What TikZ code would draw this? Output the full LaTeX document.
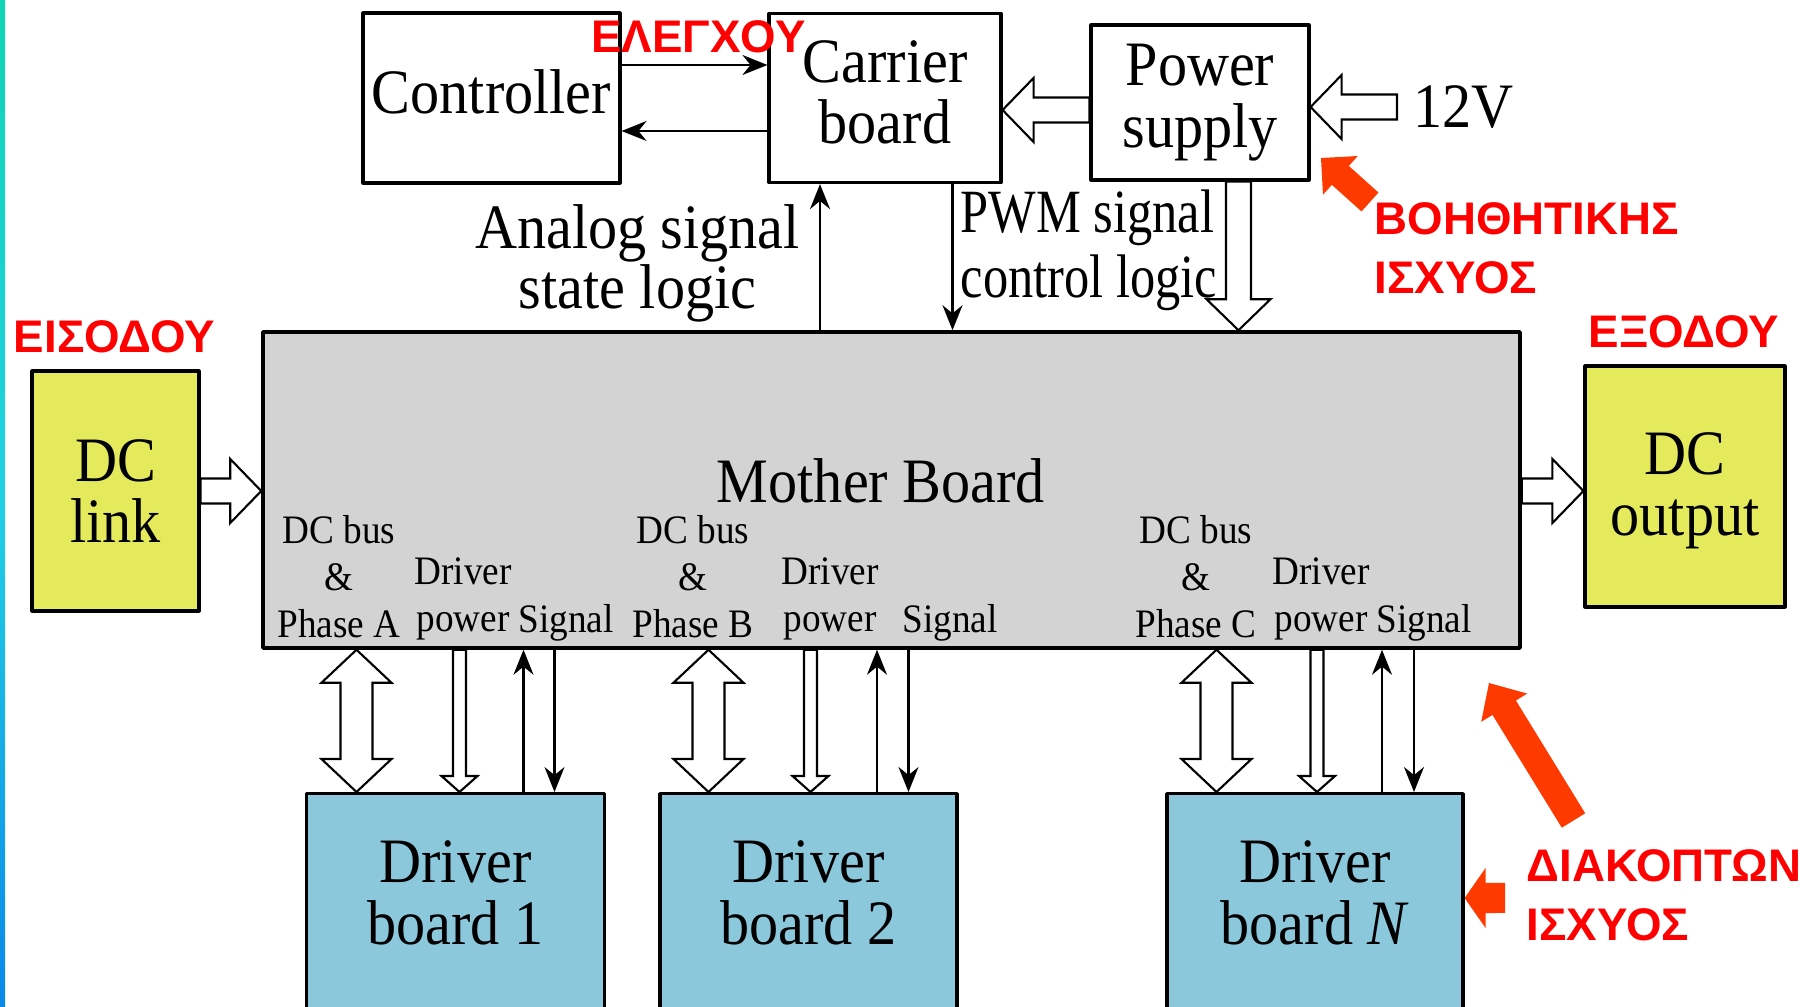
\documentclass[tikz,border=0pt]{standalone}
\usepackage{fontspec}
\setmainfont{Liberation Serif}[FakeStretch=0.92]
\newfontfamily\pwmfont{Liberation Serif}[FakeStretch=0.82]
\newfontfamily\notefont{Liberation Sans}
\usepackage{xcolor}
\usepackage{tikz}
\usetikzlibrary{calc,arrows.meta}

\definecolor{boardgray}{RGB}{211,211,211}
\definecolor{linkyellow}{RGB}{229,234,92}
\definecolor{driverblue}{RGB}{139,200,220}
\definecolor{notered}{RGB}{255,0,0}
\definecolor{pointred}{RGB}{255,58,0}
\definecolor{stripteal}{RGB}{16,212,180}
\definecolor{stripcyan}{RGB}{34,208,228}
\definecolor{stripblue}{RGB}{10,136,232}

% outline arrow between two points: half shaft, inner corner, outer corner
\tikzset{
  blockarrow/.style n args={5}{to path={
    ($(\tikztostart)!#1!90:(\tikztotarget)$)
    -- ($(\tikztotarget)!#2!-#3:(\tikztostart)$)
    -- ($(\tikztotarget)!#4!-#5:(\tikztostart)$)
    -- (\tikztotarget)
    -- ($(\tikztotarget)!#4!#5:(\tikztostart)$)
    -- ($(\tikztotarget)!#2!#3:(\tikztostart)$)
    -- ($(\tikztostart)!#1!-90:(\tikztotarget)$)
    -- cycle}},
  twoway/.style n args={4}{to path={
    (\tikztostart)
    -- ($(\tikztostart)!#3!#4:(\tikztotarget)$)
    -- ($(\tikztostart)!#1!#2:(\tikztotarget)$)
    -- ($(\tikztotarget)!#1!-#2:(\tikztostart)$)
    -- ($(\tikztotarget)!#3!-#4:(\tikztostart)$)
    -- (\tikztotarget)
    -- ($(\tikztotarget)!#3!#4:(\tikztostart)$)
    -- ($(\tikztotarget)!#1!#2:(\tikztostart)$)
    -- ($(\tikztostart)!#1!-#2:(\tikztotarget)$)
    -- ($(\tikztostart)!#3!-#4:(\tikztotarget)$)
    -- cycle}},
  bigtip/.style={blockarrow={1.25mm}{3.343mm}{21.96}{4.455mm}{45.9}},
  smalltip/.style={blockarrow={0.65mm}{1.727mm}{22.1}{2.408mm}{48.4}},
  bustip/.style={twoway={3.667mm}{25.87}{4.81mm}{46.7}},
  auxtip/.style={blockarrow={1.27mm}{2.894mm}{26.03}{3.677mm}{45}},
  switchtip/.style={blockarrow={1.375mm}{3.209mm}{25.37}{3.962mm}{42.95}},
  sidetip/.style={blockarrow={1.5mm}{2.581mm}{35.54}{3.662mm}{55}}
}

\begin{document}
\begin{tikzpicture}[
  line cap=round,
  line join=round,
  >={Stealth[length=2.5mm,width=2mm]},
  block/.style={draw=black,line width=0.9pt,align=center,inner sep=0pt,
    font=\fontsize{18}{17.5}\selectfont},
  bigtext/.style={align=center,inner sep=0pt,font=\fontsize{18}{17.5}\selectfont},
  portlabel/.style={align=center,inner sep=0pt,anchor=north,
    font=\fontsize{11.5}{13.3}\selectfont},
  note/.style={text=notered,align=left,inner sep=0pt,
    font=\notefont\bfseries\fontsize{13}{16.7}\selectfont},
  sigline/.style={line width=0.6pt,->},
  hollow/.style={draw=black,fill=white,line width=0.6pt,line join=miter}
]
\path[use as bounding box] (0,0) rectangle (18.12,10.07);
\shade[top color=stripteal,bottom color=stripblue,middle color=stripcyan]
  (0,0) rectangle (0.05,10.07);

% blocks
\node[block,fill=boardgray,line width=1pt,minimum width=12.57cm,
  minimum height=3.16cm] (mother) at (8.915,5.17) {};
\node[bigtext] (mothertext) at (8.81,5.26) {Mother Board};
\node[block,text depth=1.2mm,minimum width=2.57cm,minimum height=1.70cm]
  (ctrl) at (4.915,9.09) {Controller};
\node[block,text depth=1.2mm,minimum width=2.32cm,minimum height=1.69cm]
  (carrier) at (8.85,9.09) {Carrier\\board};
\node[block,minimum width=2.18cm,minimum height=1.55cm] (power) at (12.00,9.045)
  {Power\\supply};
\node[block,fill=linkyellow,minimum width=1.67cm,minimum height=2.40cm]
  (dclink) at (1.155,5.16) {DC\\link};
\node[block,fill=linkyellow,text depth=0.5mm,minimum width=2.00cm,
  minimum height=2.41cm] (dcout) at (16.85,5.205) {DC\\output};

\node[block,fill=driverblue,anchor=north,minimum width=2.98cm,
  minimum height=2.6cm] (drv1) at (4.555,2.15) {};
\node[block,fill=driverblue,anchor=north,minimum width=2.97cm,
  minimum height=2.6cm] (drv2) at (8.085,2.15) {};
\node[block,fill=driverblue,anchor=north,minimum width=2.96cm,
  minimum height=2.6cm] (drvN) at (13.15,2.15) {};
\node[bigtext] (drv1text) at (4.555,1.14) {Driver\\board 1};
\node[bigtext] (drv2text) at (8.085,1.14) {Driver\\board 2};
\node[bigtext] (drvNtext) at (13.15,1.14) {Driver\\board \textit{N}};

% port labels inside the mother board
\node[portlabel] (busA) at (3.39,4.92) {DC bus\\\&\\Phase A};
\node[portlabel] (pwrA) at (4.63,4.50) {Driver\\power};
\node[portlabel] (sigA) at (5.66,4.03) {Signal};
\node[portlabel] (busB) at (6.93,4.92) {DC bus\\\&\\Phase B};
\node[portlabel] (pwrB) at (8.30,4.50) {Driver\\power};
\node[portlabel] (sigB) at (9.50,4.03) {Signal};
\node[portlabel] (busC) at (11.96,4.92) {DC bus\\\&\\Phase C};
\node[portlabel] (pwrC) at (13.21,4.50) {Driver\\power};
\node[portlabel] (sigC) at (14.24,4.03) {Signal};

% controller and carrier board
\draw[sigline] ([yshift=3.3mm]ctrl.east) -- ([yshift=3.3mm]carrier.west);
\draw[sigline] ([yshift=-3.3mm]carrier.west) -- ([yshift=-3.3mm]ctrl.east);

\coordinate (analog) at ([xshift=-6.5mm]carrier.south);
\draw[sigline] (analog |- mother.north) -- (analog);
\node[bigtext,font=\fontsize{18}{17}\selectfont] (analogtext) at (6.375,7.435)
  {Analog signal\\state logic};
\coordinate (pwm) at ([xshift=6.75mm]carrier.south);
\draw[sigline] (pwm) -- (pwm |- mother.north);
\node[bigtext,anchor=west,align=left,font=\pwmfont\fontsize{17.5}{18.4}\selectfont]
  (pwmtext) at (9.60,7.57) {PWM signal\\control logic};

% auxiliary supply
\coordinate (psfeed) at ([yshift=-0.75mm]power.west);
\draw[hollow] (psfeed) to[bigtip] (psfeed -| carrier.east);
\node[bigtext,anchor=west,inner sep=1.6mm] (v12) at (13.97,9.00) {12V};
\draw[hollow] (v12.west) to[bigtip] (v12.west -| power.east);
\coordinate (psout) at ([xshift=3.85mm]power.south);
\draw[hollow] (psout) to[bigtip] (psout |- mother.north);

% dc input and output
\draw[hollow] (dclink.east) to[bigtip] (dclink.east -| mother.west);
\draw[hollow] (dclink.east -| mother.east) to[bigtip] (dclink.east -| dcout.west);

% driver boards
\draw[hollow] ([xshift=-9.9mm]drv1.north) to[bustip] ([xshift=-9.9mm]drv1.north |- mother.south);
\draw[hollow] ([xshift=0.4mm]drv1.north |- mother.south) to[smalltip] ([xshift=0.4mm]drv1.north);
\draw[sigline] ([xshift=6.8mm]drv1.north) -- ([xshift=6.8mm]drv1.north |- mother.south);
\draw[sigline] ([xshift=9.9mm]drv1.north |- mother.south) -- ([xshift=9.9mm]drv1.north);

\draw[hollow] ([xshift=-10mm]drv2.north) to[bustip] ([xshift=-10mm]drv2.north |- mother.south);
\draw[hollow] ([xshift=0.2mm]drv2.north |- mother.south) to[smalltip] ([xshift=0.2mm]drv2.north);
\draw[sigline] ([xshift=6.85mm]drv2.north) -- ([xshift=6.85mm]drv2.north |- mother.south);
\draw[sigline] ([xshift=10mm]drv2.north |- mother.south) -- ([xshift=10mm]drv2.north);

\draw[hollow] ([xshift=-9.85mm]drvN.north) to[bustip] ([xshift=-9.85mm]drvN.north |- mother.south);
\draw[hollow] ([xshift=0.2mm]drvN.north |- mother.south) to[smalltip] ([xshift=0.2mm]drvN.north);
\draw[sigline] ([xshift=6.7mm]drvN.north) -- ([xshift=6.7mm]drvN.north |- mother.south);
\draw[sigline] ([xshift=9.9mm]drvN.north |- mother.south) -- ([xshift=9.9mm]drvN.north);

% red notes
\node[note] (ctrlnote) at (6.985,9.705) {ΕΛΕΓΧΟΥ};
\node[note] (innote) at (1.145,6.70) {ΕΙΣΟΔΟΥ};
\node[note] (outnote) at (16.84,6.755) {ΕΞΟΔΟΥ};
\node[note,anchor=west] (auxnote) at (13.74,7.59) {ΒΟΗΘΗΤΙΚΗΣ\\ΙΣΧΥΟΣ};
\node[note,anchor=west] (swnote) at (15.26,1.12) {ΔΙΑΚΟΠΤΩΝ\\ΙΣΧΥΟΣ};

\coordinate (auxtail) at (13.70,8.05);
\coordinate (auxpoint) at (13.21,8.49);
\fill[pointred] (auxtail) to[auxtip] (auxpoint);
\coordinate (swtail) at (15.735,1.865);
\coordinate (swpoint) at (14.89,3.24);
\fill[pointred] (swtail) to[switchtip] (swpoint);
\coordinate (sidetail) at (15.05,1.09);
\fill[pointred] (sidetail) to[sidetip] (sidetail -| drvN.east);
\end{tikzpicture}
\end{document}
